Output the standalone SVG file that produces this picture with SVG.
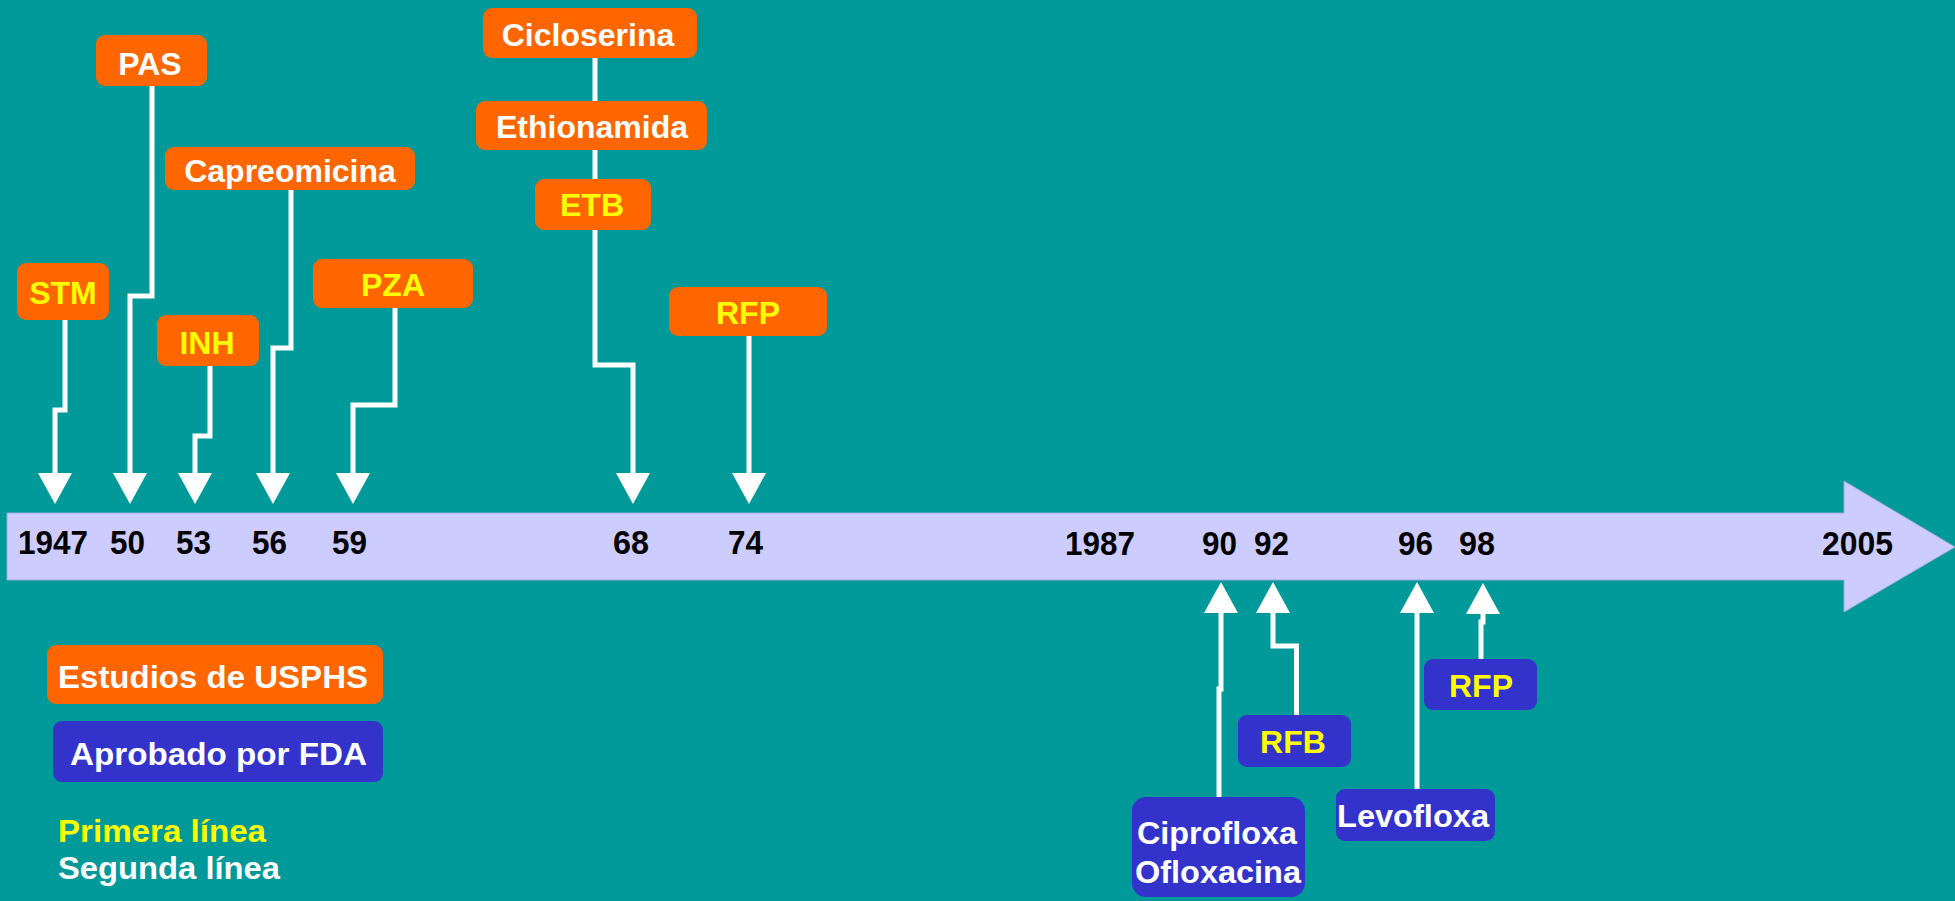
<svg xmlns="http://www.w3.org/2000/svg" width="1955" height="901" viewBox="0 0 1955 901">
<style>
text{font-family:"Liberation Sans",Arial,sans-serif;font-weight:bold;font-size:32px}
.or{fill:#FF6600}
.bl{fill:#3333CC}
.w{fill:#FFFFFF}
.y{fill:#FFFF00}
.yr{fill:#000000;font-size:33px}
.c{text-anchor:middle}
.ln{fill:none;stroke:#FFFFFF;stroke-width:5}
</style>
<defs>
<marker id="ad" viewBox="0 0 31 34" refX="0" refY="17" markerWidth="31" markerHeight="34" markerUnits="userSpaceOnUse" orient="auto">
<path d="M0,0 L31,17 L0,34 Z" fill="#FFFFFF"/>
</marker>
</defs>
<rect width="1955" height="901" fill="#009999"/>
<g id="timeline">
<polygon points="7,513 1844,513 1844,481 1955,547 1844,612 1844,580 7,580" fill="#CCCCFF" stroke="#99AADD" stroke-width="1"/>
<text class="yr" x="18" y="554" textLength="70" lengthAdjust="spacingAndGlyphs">1947</text>
<text class="yr" x="110" y="554" textLength="35" lengthAdjust="spacingAndGlyphs">50</text>
<text class="yr" x="176" y="554" textLength="35" lengthAdjust="spacingAndGlyphs">53</text>
<text class="yr" x="252" y="554" textLength="35" lengthAdjust="spacingAndGlyphs">56</text>
<text class="yr" x="332" y="554" textLength="35" lengthAdjust="spacingAndGlyphs">59</text>
<text class="yr" x="613" y="554" textLength="36" lengthAdjust="spacingAndGlyphs">68</text>
<text class="yr" x="728" y="554" textLength="35" lengthAdjust="spacingAndGlyphs">74</text>
<text class="yr" x="1065" y="555" textLength="70" lengthAdjust="spacingAndGlyphs">1987</text>
<text class="yr" x="1202" y="555" textLength="35" lengthAdjust="spacingAndGlyphs">90</text>
<text class="yr" x="1254" y="555" textLength="35" lengthAdjust="spacingAndGlyphs">92</text>
<text class="yr" x="1398" y="555" textLength="35" lengthAdjust="spacingAndGlyphs">96</text>
<text class="yr" x="1459" y="555" textLength="36" lengthAdjust="spacingAndGlyphs">98</text>
<text class="yr" x="1822" y="555" textLength="71" lengthAdjust="spacingAndGlyphs">2005</text>
</g>
<g id="connectors">
<polyline class="ln" points="65,320 65,410 55,410 55,473" marker-end="url(#ad)"/>
<polyline class="ln" points="152,86 152,296 130,296 130,473" marker-end="url(#ad)"/>
<polyline class="ln" points="210,366 210,436 195,436 195,473" marker-end="url(#ad)"/>
<polyline class="ln" points="291,190 291,348 273,348 273,473" marker-end="url(#ad)"/>
<polyline class="ln" points="395,308 395,405 353,405 353,473" marker-end="url(#ad)"/>
<polyline class="ln" points="595,58 595,365 633,365 633,473" marker-end="url(#ad)"/>
<polyline class="ln" points="749,336 749,473" marker-end="url(#ad)"/>
<polyline class="ln" points="1219,797 1219,689 1221,689 1221,613" marker-end="url(#ad)"/>
<polyline class="ln" points="1296.5,715 1296.5,646 1273,646 1273,613" marker-end="url(#ad)"/>
<polyline class="ln" points="1417,789 1417,613" marker-end="url(#ad)"/>
<polyline class="ln" points="1481,659 1481,622 1483,622 1483,614" marker-end="url(#ad)"/>
</g>
<g id="n-stm"><rect class="or" x="17" y="263" width="92" height="57" rx="9"/><text class="y c" x="63" y="304">STM</text></g>
<g id="n-pas"><rect class="or" x="96" y="35" width="111" height="51" rx="9"/><text class="w c" x="150" y="75">PAS</text></g>
<g id="n-capreomicina"><rect class="or" x="165" y="147" width="250" height="43" rx="9"/><text class="w c" x="290" y="182">Capreomicina</text></g>
<g id="n-inh"><rect class="or" x="157" y="315" width="102" height="51" rx="9"/><text class="y c" x="207" y="354">INH</text></g>
<g id="n-pza"><rect class="or" x="313" y="259" width="160" height="49" rx="9"/><text class="y c" x="393" y="296">PZA</text></g>
<g id="n-cicloserina"><rect class="or" x="483" y="8" width="214" height="50" rx="9"/><text class="w c" x="588" y="46">Cicloserina</text></g>
<g id="n-ethionamida"><rect class="or" x="476" y="101" width="231" height="49" rx="9"/><text class="w c" x="592" y="138">Ethionamida</text></g>
<g id="n-etb"><rect class="or" x="535" y="179" width="116" height="51" rx="9"/><text class="y c" x="592" y="216">ETB</text></g>
<g id="n-rfp-usphs"><rect class="or" x="669" y="287" width="158" height="49" rx="9"/><text class="y c" x="748" y="324">RFP</text></g>
<g id="n-rfb"><rect class="bl" x="1238" y="715" width="113" height="52" rx="9"/><text class="y c" x="1293" y="753">RFB</text></g>
<g id="n-rfp-fda"><rect class="bl" x="1424" y="659" width="113" height="51" rx="9"/><text class="y c" x="1481" y="697">RFP</text></g>
<g id="n-levofloxa"><rect class="bl" x="1336" y="789" width="159" height="52" rx="9"/><text class="w c" x="1413" y="827" textLength="152" lengthAdjust="spacingAndGlyphs">Levofloxa</text></g>
<g id="n-ciprofloxa"><rect class="bl" x="1132" y="797" width="173" height="100" rx="14"/><text class="w c" x="1217" y="844" textLength="160" lengthAdjust="spacingAndGlyphs">Ciprofloxa</text><text class="w c" x="1218" y="883" textLength="166" lengthAdjust="spacingAndGlyphs">Ofloxacina</text></g>
<g id="legend">
<rect class="or" x="47" y="645" width="336" height="59" rx="9"/><text class="w" x="58" y="688" textLength="310" lengthAdjust="spacingAndGlyphs">Estudios de USPHS</text>
<rect class="bl" x="53" y="721" width="330" height="61" rx="9"/><text class="w" x="70" y="765" textLength="297" lengthAdjust="spacingAndGlyphs">Aprobado por FDA</text>
<text class="y" x="58" y="842" textLength="208" lengthAdjust="spacingAndGlyphs">Primera línea</text>
<text class="w" x="58" y="879" textLength="222" lengthAdjust="spacingAndGlyphs">Segunda línea</text>
</g>
</svg>
